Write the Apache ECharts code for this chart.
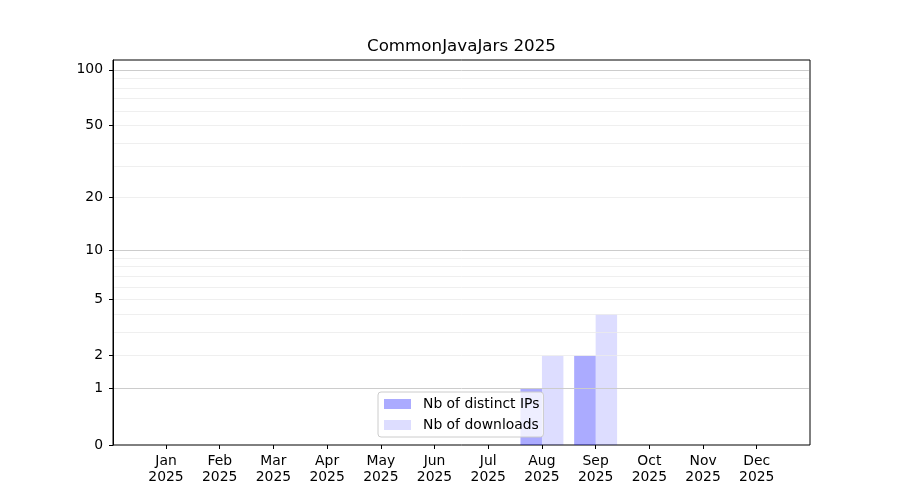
<!DOCTYPE html>
<html>
<head>
<meta charset="utf-8">
<script src="https://cdn.jsdelivr.net/npm/echarts@6/dist/echarts.min.js"></script>
<style>
  html, body { margin: 0; padding: 0; background: #fff; }
  #chart { width: 900px; height: 500px; }
</style>
</head>
<body>
<div id="chart"></div>
<script>
var months = ['Jan', 'Feb', 'Mar', 'Apr', 'May', 'Jun', 'Jul', 'Aug', 'Sep', 'Oct', 'Nov', 'Dec'];
var year = '2025';
var distinctIps = [0, 0, 0, 0, 0, 0, 0, 1, 2, 0, 0, 0];
var downloads = [0, 0, 0, 0, 0, 0, 0, 2, 4, 0, 0, 0];
var yTicks = [0, 1, 2, 5, 10, 20, 50, 100];
var majorGrid = [1, 10, 100];
var minorGrid = [2, 3, 4, 5, 6, 7, 8, 9, 20, 30, 40, 50, 60, 70, 80, 90];
var yTop = 113;

// y scale is log10(1 + v)
function fwd(v) { return Math.log10(1 + v); }
function inv(t) { return Math.round(Math.pow(10, t) - 1); }

var chart = echarts.init(document.getElementById('chart'));
var font = 'DejaVu Sans';

// grid lines kept just inside the black frame
function gridLine(v, style) {
  return [
    { coord: [0.0016, fwd(v)], lineStyle: style },
    { coord: [0.9984, fwd(v)] }
  ];
}
var gridLines = [];
minorGrid.forEach(function (v) {
  gridLines.push(gridLine(v, { color: '#ebebeb', width: 0.8, type: 'solid' }));
});
majorGrid.forEach(function (v) {
  gridLines.push(gridLine(v, { color: '#cccccc', width: 1, type: 'solid' }));
});

var option = {
  animation: false,
  backgroundColor: '#fff',
  title: {
    text: 'CommonJavaJars ' + year,
    left: 367, top: 38, padding: 0,
    textStyle: { fontFamily: font, fontSize: 16.7, fontWeight: 'normal', color: '#000' }
  },
  legend: {
    orient: 'vertical',
    left: 378, top: 392,
    padding: [5, 4, 5, 6],
    itemWidth: 27, itemHeight: 10, itemGap: 7,
    icon: 'rect',
    backgroundColor: 'rgba(255,255,255,0.8)',
    borderColor: '#cccccc', borderWidth: 1, borderRadius: 3,
    textStyle: { fontFamily: font, fontSize: 13.9, color: '#000', padding: [0, 0, 0, 7] },
    data: ['Nb of distinct IPs', 'Nb of downloads']
  },
  grid: [
    { left: 113, right: 90, top: 60, bottom: 55, show: true, borderColor: '#000', borderWidth: 1, backgroundColor: 'transparent' },
    { left: 139.15, right: 116.4, top: 60, bottom: 55 }
  ],
  xAxis: [
    { gridIndex: 0, type: 'value', min: 0, max: 1, show: false },
    {
      gridIndex: 1, type: 'category', data: months.map(function (m) { return m + '\n' + year; }),
      axisLine: { show: false },
      axisTick: { show: true, alignWithLabel: true, length: 4, lineStyle: { color: '#000' } },
      axisLabel: { fontFamily: font, fontSize: 13.9, color: '#000', lineHeight: 16, margin: 8, interval: 0 }
    }
  ],
  yAxis: [
    {
      gridIndex: 0, type: 'value', min: 0, max: fwd(yTop),
      axisLine: { show: true, lineStyle: { color: '#000' } },
      splitLine: { show: false },
      axisTick: { show: true, length: 4, customValues: yTicks.map(fwd), lineStyle: { color: '#000' } },
      axisLabel: {
        customValues: yTicks.map(fwd), fontFamily: font, fontSize: 13.9, color: '#000', margin: 10,
        padding: [3, 0, 0, 0],
        formatter: function (v) { return String(inv(v)); }
      }
    },
    { gridIndex: 1, type: 'value', min: 0, max: fwd(yTop), show: false }
  ],
  series: [
    {
      type: 'line', xAxisIndex: 0, yAxisIndex: 0, z: 1, silent: true,
      data: [[0, 0], [1, 0]], symbol: 'none', lineStyle: { width: 0, opacity: 0 },
      markLine: { silent: true, symbol: 'none', label: { show: false }, data: gridLines }
    },
    {
      name: 'Nb of distinct IPs', type: 'bar', xAxisIndex: 1, yAxisIndex: 1, z: 2,
      barGap: 0, barCategoryGap: '20%',
      itemStyle: { color: 'rgba(0,0,255,0.33)' },
      data: distinctIps.map(fwd)
    },
    {
      name: 'Nb of downloads', type: 'bar', xAxisIndex: 1, yAxisIndex: 1, z: 2,
      barGap: 0, barCategoryGap: '20%',
      itemStyle: { color: 'rgba(0,0,255,0.134)' },
      data: downloads.map(fwd)
    }
  ]
};
chart.setOption(option);
</script>
</body>
</html>
